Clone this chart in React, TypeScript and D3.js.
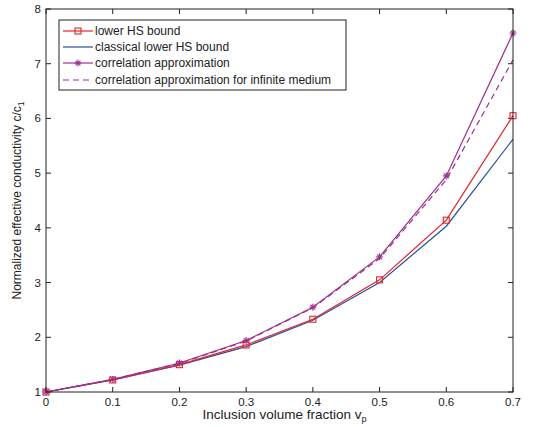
import React from "react";
import * as d3 from "d3";

const xs = [0, 0.1, 0.2, 0.3, 0.4, 0.5, 0.6, 0.7];
const lowerHS = [1, 1.22, 1.5, 1.86, 2.33, 3.05, 4.14, 6.05];
const classicalHS = [1, 1.22, 1.49, 1.83, 2.31, 3.0, 4.03, 5.62];
const corrApprox = [1, 1.23, 1.53, 1.94, 2.55, 3.47, 4.95, 7.56];
const corrInfinite = [1, 1.23, 1.52, 1.93, 2.54, 3.44, 4.88, 7.07];
const xTicks = [0, 0.1, 0.2, 0.3, 0.4, 0.5, 0.6, 0.7];
const yTicks = [1, 2, 3, 4, 5, 6, 7, 8];
const legendLabels = [
  "lower HS bound",
  "classical lower HS bound",
  "correlation approximation",
  "correlation approximation for infinite medium",
];

const RED = "#e3242b";
const BLUE = "#2a4f9a";
const PURPLE = "#9c2f8e";

export default function App() {
  const W = 537, H = 427;
  const left = 46, right = 513, top = 9, bottom = 392;
  const x = d3.scaleLinear().domain([0, 0.7]).range([left, right]);
  const y = d3.scaleLinear().domain([1, 8]).range([bottom, top]);
  const line = (vals: number[]) =>
    d3.line<number>().x((_, i) => x(xs[i])).y((d) => y(d))(vals) as string;

  const font = "Liberation Sans, Arial, sans-serif";
  const tl = 5;

  const star = (cx: number, cy: number, key: string) => {
    const r = 3.5;
    return (
      <g key={key} stroke={PURPLE} strokeWidth={1.1}>
        <line x1={cx - r} y1={cy} x2={cx + r} y2={cy} />
        <line x1={cx} y1={cy - r} x2={cx} y2={cy + r} />
        <line x1={cx - r * 0.7} y1={cy - r * 0.7} x2={cx + r * 0.7} y2={cy + r * 0.7} />
        <line x1={cx - r * 0.7} y1={cy + r * 0.7} x2={cx + r * 0.7} y2={cy - r * 0.7} />
      </g>
    );
  };
  const square = (cx: number, cy: number, key: string) => (
    <rect key={key} x={cx - 3} y={cy - 3} width={6} height={6} fill="none" stroke={RED} strokeWidth={1.1} />
  );

  const legX = 59, legY = 20, legW = 287, legH = 70;
  const rows = [31, 47, 63, 80];

  return (
    <svg width={W} height={H} style={{ display: "block", position: "absolute", left: 0, top: 0 }} fontFamily={font}>
      <rect x={0} y={0} width={W} height={H} fill="white" />
      {xTicks.map((t, i) => (
        <g key={"xt" + i} stroke="#222" strokeWidth={1}>
          <line x1={x(t)} y1={bottom} x2={x(t)} y2={bottom - tl} />
          <line x1={x(t)} y1={top} x2={x(t)} y2={top + tl} />
        </g>
      ))}
      {yTicks.map((t, i) => (
        <g key={"yt" + i} stroke="#222" strokeWidth={1}>
          <line x1={left} y1={y(t)} x2={left + tl} y2={y(t)} />
          <line x1={right} y1={y(t)} x2={right - tl} y2={y(t)} />
        </g>
      ))}
      {xTicks.map((t, i) => (
        <text key={"xl" + i} x={x(t)} y={bottom + 14} fontSize={11.5} textAnchor="middle" fill="#222">
          {t === 0 ? "0" : t.toFixed(1)}
        </text>
      ))}
      {yTicks.map((t, i) => (
        <text key={"yl" + i} x={left - 5} y={y(t) + 4} fontSize={11.5} textAnchor="end" fill="#222">
          {t}
        </text>
      ))}
      <path d={line(classicalHS)} fill="none" stroke={BLUE} strokeWidth={1.2} />
      <path d={line(lowerHS)} fill="none" stroke={RED} strokeWidth={1.2} />
      <path d={line(corrInfinite)} fill="none" stroke={PURPLE} strokeWidth={1.2} strokeDasharray="6,4" />
      <path d={line(corrApprox)} fill="none" stroke={PURPLE} strokeWidth={1.2} />
      {lowerHS.map((v, i) => square(x(xs[i]), y(v), "sq" + i))}
      {corrApprox.map((v, i) => star(x(xs[i]), y(v), "st" + i))}
      <rect x={left} y={top} width={right - left} height={bottom - top} fill="none" stroke="#222" strokeWidth={1} />
      <rect x={legX} y={legY} width={legW} height={legH} fill="white" stroke="#222" strokeWidth={1} />
      {legendLabels.map((lab, i) => {
        const ry = rows[i];
        const col = i === 0 ? RED : i === 1 ? BLUE : PURPLE;
        return (
          <g key={"lg" + i}>
            <line x1={63} y1={ry} x2={93} y2={ry} stroke={col} strokeWidth={1.2} strokeDasharray={i === 3 ? "6,4" : undefined} />
            {i === 0 && square(78, ry, "lsq")}
            {i === 2 && star(78, ry, "lst")}
            <text x={95} y={ry + 4} fontSize={12} fill="#222">{lab}</text>
          </g>
        );
      })}
      <text x={(left + right) / 2 + 5} y={419} fontSize={13.5} textAnchor="middle" fill="#222">
        Inclusion volume fraction v<tspan fontSize={9} dy={3}>p</tspan>
      </text>
      <text transform={`translate(21, ${(top + bottom) / 2}) rotate(-90)`} fontSize={12} textAnchor="middle" fill="#222">
        Normalized effective conductivity c/c<tspan fontSize={8.5} dy={3}>1</tspan>
      </text>
    </svg>
  );
}
